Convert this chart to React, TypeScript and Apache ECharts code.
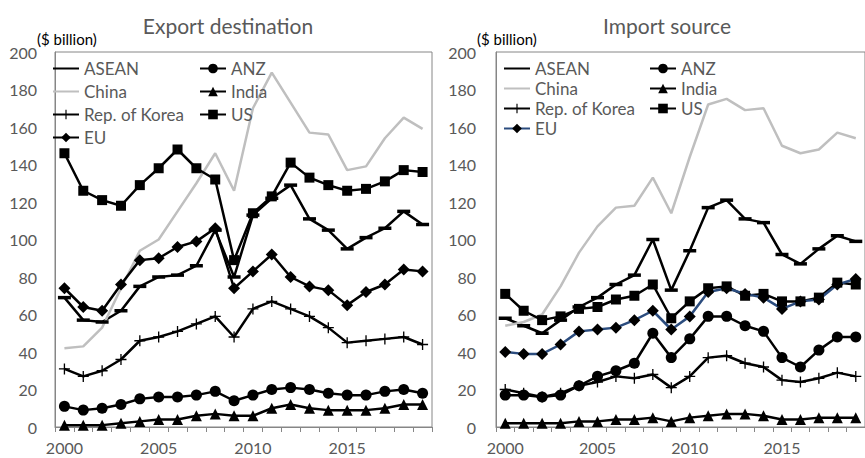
import React, { useEffect, useRef } from "react";
import * as echarts from "echarts";

// Years on the category axis
const years = [
  "2000", "2001", "2002", "2003", "2004", "2005", "2006", "2007", "2008", "2009",
  "2010", "2011", "2012", "2013", "2014", "2015", "2016", "2017", "2018", "2019",
];

// Export destination ($ billion)
const aseanEx = [69, 57, 56, 62, 75, 80, 81, 86, 105, 80, 113, 122, 129, 111, 105, 95, 101, 106, 115, 108];
const anzEx = [11, 9, 10, 12, 15, 16, 16, 17, 19, 14, 17, 20, 21, 20, 18, 17, 17, 19, 20, 18];
const chinaEx = [42, 43, 53, 74, 94, 100, 115, 130, 146, 126, 170, 189, 173, 157, 156, 137, 139, 154, 165, 159];
const indiaEx = [1, 1, 1, 2, 3, 4, 4, 6, 7, 6, 6, 10, 12, 10, 9, 9, 9, 10, 12, 12];
const koreaEx = [31, 27, 30, 36, 46, 48, 51, 55, 59, 48, 63, 67, 63, 59, 53, 45, 46, 47, 48, 44];
const usEx = [146, 126, 121, 118, 129, 138, 148, 138, 132, 89, 114, 123, 141, 133, 129, 126, 127, 131, 137, 136];
const euEx = [74, 64, 62, 76, 89, 90, 96, 99, 106, 74, 83, 92, 80, 75, 73, 65, 72, 76, 84, 83];

// Import source ($ billion)
const aseanIm = [58, 54, 50, 57, 64, 69, 76, 81, 100, 73, 94, 117, 121, 111, 109, 92, 87, 95, 102, 99];
const anzIm = [17, 17, 16, 17, 22, 27, 30, 34, 50, 37, 47, 59, 59, 54, 51, 37, 32, 41, 48, 48];
const chinaIm = [54, 56, 60, 75, 93, 107, 117, 118, 133, 114, 144, 172, 175, 169, 170, 150, 146, 148, 157, 154];
const indiaIm = [2, 2, 2, 2, 3, 3, 4, 4, 5, 3, 5, 6, 7, 7, 6, 4, 4, 5, 5, 5];
const koreaIm = [20, 18, 16, 18, 22, 24, 27, 26, 28, 21, 27, 37, 38, 34, 32, 25, 24, 26, 29, 27];
const usIm = [71, 62, 57, 59, 63, 64, 68, 70, 76, 58, 67, 74, 75, 70, 71, 67, 67, 69, 77, 76];
const euIm = [40, 39, 39, 44, 51, 52, 53, 57, 62, 52, 59, 72, 74, 71, 69, 63, 67, 68, 76, 79];

const panelTitles = ["Export destination", "Import source"];
const unitLabel = "($ billion)";

const FONT = "Lato, 'Open Sans', sans-serif";
const GREY_TEXT = "#595959";
const AXIS_GREY = "#868686";
const CHINA_GREY = "#BFBFBF";
const EU_BLUE = "#2B4C7E";

const DASH = "path://M0,0H12V3H0Z";
const PLUS = "path://M4.4,0H5.6V4.4H10V5.6H5.6V10H4.4V5.6H0V4.4H4.4Z";

type Style = { symbol: string; size: number | number[]; color: string };

const styles: Record<string, Style> = {
  ASEAN: { symbol: DASH, size: [13, 3.5], color: "#000" },
  ANZ: { symbol: "circle", size: 11, color: "#000" },
  China: { symbol: "none", size: 0, color: CHINA_GREY },
  India: { symbol: "triangle", size: 11, color: "#000" },
  "Rep. of Korea": { symbol: PLUS, size: 11, color: "#000" },
  US: { symbol: "rect", size: 10, color: "#000" },
  EU: { symbol: "diamond", size: 12, color: "#000" },
};

function makeSeries(name: string, data: number[], idx: number, lineColor?: string) {
  const s = styles[name];
  return {
    type: "line",
    name,
    xAxisIndex: idx,
    yAxisIndex: idx,
    data,
    symbol: s.symbol,
    symbolSize: s.size,
    showSymbol: s.symbol !== "none",
    itemStyle: { color: s.color },
    lineStyle: { color: lineColor || s.color, width: 2.5 },
    emphasis: { disabled: true },
  };
}

function legendCol(names: string[], left: number, top: number, gap: number, euLine?: string) {
  return {
    orient: "vertical",
    left,
    top,
    padding: 0,
    itemWidth: 26,
    itemHeight: 12,
    itemGap: gap,
    selectedMode: false,
    textStyle: { color: GREY_TEXT, fontSize: 17, fontFamily: FONT },
    data: names.map((n) => {
      const d: any = { name: n };
      if (n === "ASEAN" || n === "China") d.itemStyle = { opacity: 0 };
      if (n === "China") d.lineStyle = { color: CHINA_GREY };
      if (n === "EU" && euLine) d.lineStyle = { color: euLine };
      return d;
    }),
  };
}

export default function App() {
  const ref = useRef<HTMLDivElement>(null);

  useEffect(() => {
    if (!ref.current) return;
    const chart = echarts.init(ref.current, undefined, { renderer: "svg" });

    const grids = [
      { left: 55, top: 52, width: 377, height: 375 },
      { left: 496, top: 52, width: 376, height: 375 },
    ];

    const option: any = {
      animation: false,
      textStyle: { fontFamily: FONT },
      grid: grids.map((g) => ({
        ...g,
        show: true,
        borderColor: AXIS_GREY,
        borderWidth: 1,
        backgroundColor: "transparent",
      })),
      xAxis: [0, 1].map((i) => ({
        gridIndex: i,
        type: "category",
        data: years,
        boundaryGap: true,
        axisLine: { lineStyle: { color: AXIS_GREY, width: 1 } },
        axisTick: { show: true, interval: 0, length: 5, lineStyle: { color: AXIS_GREY } },
        axisLabel: { interval: 4, color: GREY_TEXT, fontSize: 16, margin: 12, fontFamily: FONT },
      })),
      yAxis: [0, 1].map((i) => ({
        gridIndex: i,
        type: "value",
        min: 0,
        max: 200,
        interval: 20,
        splitLine: { show: false },
        axisLine: { show: true, lineStyle: { color: AXIS_GREY, width: 1 } },
        axisTick: { show: false },
        axisLabel: { color: GREY_TEXT, fontSize: 16, margin: i === 0 ? 18 : 20, fontFamily: FONT },
      })),
      legend: [
        legendCol(["ASEAN", "China", "Rep. of Korea", "EU"], 52, 60, 6),
        legendCol(["ANZ", "India", "US"], 199, 60, 6),
        legendCol(["ASEAN", "China", "Rep. of Korea", "EU"], 503, 60, 3, EU_BLUE),
        legendCol(["ANZ", "India", "US"], 649, 60, 3),
      ],
      series: [
        makeSeries("ASEAN", aseanEx, 0),
        makeSeries("ANZ", anzEx, 0),
        makeSeries("China", chinaEx, 0),
        makeSeries("India", indiaEx, 0),
        makeSeries("Rep. of Korea", koreaEx, 0),
        makeSeries("US", usEx, 0),
        makeSeries("EU", euEx, 0),
        makeSeries("ASEAN", aseanIm, 1),
        makeSeries("ANZ", anzIm, 1),
        makeSeries("China", chinaIm, 1),
        makeSeries("India", indiaIm, 1),
        makeSeries("Rep. of Korea", koreaIm, 1),
        makeSeries("US", usIm, 1),
        makeSeries("EU", euIm, 1, EU_BLUE),
      ],
      graphic: [
        {
          type: "text",
          x: 228,
          y: 25,
          style: {
            text: panelTitles[0],
            fill: GREY_TEXT,
            font: `21px ${FONT}`,
            textAlign: "center",
            textVerticalAlign: "middle",
          },
        },
        {
          type: "text",
          x: 667,
          y: 25,
          style: {
            text: panelTitles[1],
            fill: GREY_TEXT,
            font: `21px ${FONT}`,
            textAlign: "center",
            textVerticalAlign: "middle",
          },
        },
        {
          type: "text",
          x: 37,
          y: 39,
          style: { text: unitLabel, fill: "#000", font: `15px ${FONT}`, textAlign: "left", textVerticalAlign: "middle" },
        },
        {
          type: "text",
          x: 477,
          y: 39,
          style: { text: unitLabel, fill: "#000", font: `15px ${FONT}`, textAlign: "left", textVerticalAlign: "middle" },
        },
      ],
    };

    chart.setOption(option);
    return () => chart.dispose();
  }, []);

  return (
    <div
      ref={ref}
      style={{ position: "fixed", left: 0, top: 0, width: 865, height: 458, background: "#fff" }}
    />
  );
}
